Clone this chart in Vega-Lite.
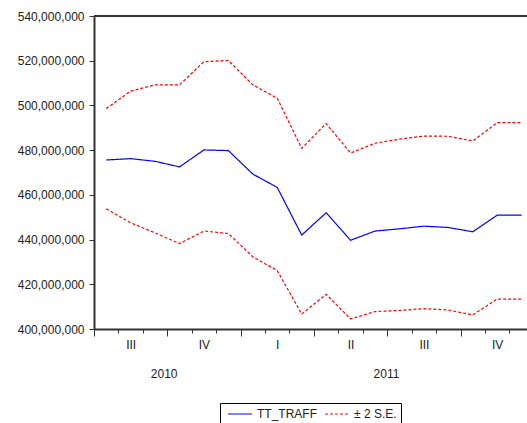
{
  "$schema": "https://vega.github.io/schema/vega-lite/v6.json",
  "autosize": "none",
  "width": 433,
  "height": 313,
  "padding": {"left": 94, "top": 16, "right": 0, "bottom": 94},
  "background": "white",
  "config": {
    "view": {"stroke": null},
    "font": "Liberation Sans",
    "axis": {"labelFont": "Liberation Sans", "labelFontSize": 12, "labelColor": "#222", "grid": false, "domainColor": "#333", "domainWidth": 2, "tickColor": "#333", "tickWidth": 1},
    "legend": {"labelFont": "Liberation Sans", "labelFontSize": 12, "labelColor": "#222"}
  },
  "data": {
    "values": [
      {"obs": 1, "month": "2010-07", "series": "TT_TRAFF", "band": "mid", "v": 475600000},
      {"obs": 2, "month": "2010-08", "series": "TT_TRAFF", "band": "mid", "v": 476200000},
      {"obs": 3, "month": "2010-09", "series": "TT_TRAFF", "band": "mid", "v": 475000000},
      {"obs": 4, "month": "2010-10", "series": "TT_TRAFF", "band": "mid", "v": 472500000},
      {"obs": 5, "month": "2010-11", "series": "TT_TRAFF", "band": "mid", "v": 480100000},
      {"obs": 6, "month": "2010-12", "series": "TT_TRAFF", "band": "mid", "v": 479800000},
      {"obs": 7, "month": "2011-01", "series": "TT_TRAFF", "band": "mid", "v": 469300000},
      {"obs": 8, "month": "2011-02", "series": "TT_TRAFF", "band": "mid", "v": 463300000},
      {"obs": 9, "month": "2011-03", "series": "TT_TRAFF", "band": "mid", "v": 442000000},
      {"obs": 10, "month": "2011-04", "series": "TT_TRAFF", "band": "mid", "v": 452000000},
      {"obs": 11, "month": "2011-05", "series": "TT_TRAFF", "band": "mid", "v": 439700000},
      {"obs": 12, "month": "2011-06", "series": "TT_TRAFF", "band": "mid", "v": 443800000},
      {"obs": 13, "month": "2011-07", "series": "TT_TRAFF", "band": "mid", "v": 444800000},
      {"obs": 14, "month": "2011-08", "series": "TT_TRAFF", "band": "mid", "v": 446000000},
      {"obs": 15, "month": "2011-09", "series": "TT_TRAFF", "band": "mid", "v": 445400000},
      {"obs": 16, "month": "2011-10", "series": "TT_TRAFF", "band": "mid", "v": 443500000},
      {"obs": 17, "month": "2011-11", "series": "TT_TRAFF", "band": "mid", "v": 450900000},
      {"obs": 18, "month": "2011-12", "series": "TT_TRAFF", "band": "mid", "v": 450900000},
      {"obs": 1, "month": "2010-07", "series": "± 2 S.E.", "band": "upper", "v": 498600000},
      {"obs": 2, "month": "2010-08", "series": "± 2 S.E.", "band": "upper", "v": 506400000},
      {"obs": 3, "month": "2010-09", "series": "± 2 S.E.", "band": "upper", "v": 509200000},
      {"obs": 4, "month": "2010-10", "series": "± 2 S.E.", "band": "upper", "v": 509200000},
      {"obs": 5, "month": "2010-11", "series": "± 2 S.E.", "band": "upper", "v": 519600000},
      {"obs": 6, "month": "2010-12", "series": "± 2 S.E.", "band": "upper", "v": 520100000},
      {"obs": 7, "month": "2011-01", "series": "± 2 S.E.", "band": "upper", "v": 509200000},
      {"obs": 8, "month": "2011-02", "series": "± 2 S.E.", "band": "upper", "v": 503200000},
      {"obs": 9, "month": "2011-03", "series": "± 2 S.E.", "band": "upper", "v": 480800000},
      {"obs": 10, "month": "2011-04", "series": "± 2 S.E.", "band": "upper", "v": 491900000},
      {"obs": 11, "month": "2011-05", "series": "± 2 S.E.", "band": "upper", "v": 478700000},
      {"obs": 12, "month": "2011-06", "series": "± 2 S.E.", "band": "upper", "v": 483100000},
      {"obs": 13, "month": "2011-07", "series": "± 2 S.E.", "band": "upper", "v": 484900000},
      {"obs": 14, "month": "2011-08", "series": "± 2 S.E.", "band": "upper", "v": 486300000},
      {"obs": 15, "month": "2011-09", "series": "± 2 S.E.", "band": "upper", "v": 486200000},
      {"obs": 16, "month": "2011-10", "series": "± 2 S.E.", "band": "upper", "v": 484100000},
      {"obs": 17, "month": "2011-11", "series": "± 2 S.E.", "band": "upper", "v": 492300000},
      {"obs": 18, "month": "2011-12", "series": "± 2 S.E.", "band": "upper", "v": 492300000},
      {"obs": 1, "month": "2010-07", "series": "± 2 S.E.", "band": "lower", "v": 453800000},
      {"obs": 2, "month": "2010-08", "series": "± 2 S.E.", "band": "lower", "v": 447500000},
      {"obs": 3, "month": "2010-09", "series": "± 2 S.E.", "band": "lower", "v": 443000000},
      {"obs": 4, "month": "2010-10", "series": "± 2 S.E.", "band": "lower", "v": 438200000},
      {"obs": 5, "month": "2010-11", "series": "± 2 S.E.", "band": "lower", "v": 443800000},
      {"obs": 6, "month": "2010-12", "series": "± 2 S.E.", "band": "lower", "v": 442700000},
      {"obs": 7, "month": "2011-01", "series": "± 2 S.E.", "band": "lower", "v": 432300000},
      {"obs": 8, "month": "2011-02", "series": "± 2 S.E.", "band": "lower", "v": 426100000},
      {"obs": 9, "month": "2011-03", "series": "± 2 S.E.", "band": "lower", "v": 406700000},
      {"obs": 10, "month": "2011-04", "series": "± 2 S.E.", "band": "lower", "v": 415500000},
      {"obs": 11, "month": "2011-05", "series": "± 2 S.E.", "band": "lower", "v": 404500000},
      {"obs": 12, "month": "2011-06", "series": "± 2 S.E.", "band": "lower", "v": 407800000},
      {"obs": 13, "month": "2011-07", "series": "± 2 S.E.", "band": "lower", "v": 408300000},
      {"obs": 14, "month": "2011-08", "series": "± 2 S.E.", "band": "lower", "v": 409100000},
      {"obs": 15, "month": "2011-09", "series": "± 2 S.E.", "band": "lower", "v": 408500000},
      {"obs": 16, "month": "2011-10", "series": "± 2 S.E.", "band": "lower", "v": 406300000},
      {"obs": 17, "month": "2011-11", "series": "± 2 S.E.", "band": "lower", "v": 413400000},
      {"obs": 18, "month": "2011-12", "series": "± 2 S.E.", "band": "lower", "v": 413400000}
    ]
  },
  "layer": [
    {
      "mark": {"type": "line", "strokeWidth": 1.2},
      "encoding": {
        "x": {
          "field": "obs", "type": "quantitative",
          "scale": {"domain": [0.5, 18.22], "nice": false, "zero": false},
          "axis": {
            "title": null,
            "values": [0.5, 1.5, 2, 2.5, 3.35, 3.5, 4.5, 5, 5.5, 6.5, 7.5, 8, 8.5, 9.5, 10.5, 11, 11.5, 12.45, 12.5, 13.5, 14, 14.5, 15.5, 16.5, 17, 17.5],
            "labelOverlap": false,
            "labelBound": false,
            "labelFlush": false,
            "labelBaseline": "top",
            "labelExpr": "datum.value === 2 ? 'III' : datum.value === 5 ? 'IV' : datum.value === 8 ? 'I' : datum.value === 11 ? 'II' : datum.value === 14 ? 'III' : datum.value === 17 ? 'IV' : datum.value === 3.35 ? '2010' : datum.value === 12.45 ? '2011' : ''",
            "tickOpacity": {"condition": {"test": "datum.value % 1 === 0.5", "value": 1}, "value": 0},
            "tickSize": {"condition": {"test": "(datum.value - 0.5) % 3 === 0", "value": 7}, "value": 4},
            "labelPadding": {"condition": {"test": "datum.value === 3.35 || datum.value === 12.45", "value": 35}, "value": 6}
          }
        },
        "y": {
          "field": "v", "type": "quantitative",
          "scale": {"domain": [400000000, 540000000], "nice": false, "zero": false},
          "axis": {"title": null, "values": [400000000, 420000000, 440000000, 460000000, 480000000, 500000000, 520000000, 540000000], "format": ",.0f", "tickSize": 5, "labelPadding": 5}
        },
        "detail": {"field": "band"},
        "color": {
          "field": "series", "type": "nominal",
          "scale": {"domain": ["TT_TRAFF", "± 2 S.E."], "range": ["#0000ff", "#ff0000"]},
          "legend": {
            "title": null, "orient": "none", "legendX": 126, "legendY": 387, "direction": "horizontal",
            "strokeColor": "#000", "padding": 4, "symbolType": "M-2,0H2", "symbolSize": 144, "symbolStrokeWidth": 1.2,
            "symbolOffset": 9, "labelOffset": 10, "columnPadding": 4, "fillColor": "white"
          }
        },
        "strokeDash": {
          "field": "series", "type": "nominal",
          "scale": {"domain": ["TT_TRAFF", "± 2 S.E."], "range": [[1, 0], [3, 2]]},
          "legend": {
            "title": null, "orient": "none", "legendX": 126, "legendY": 387, "direction": "horizontal",
            "strokeColor": "#000", "padding": 4, "symbolType": "M-2,0H2", "symbolSize": 144,
            "symbolOffset": 9, "labelOffset": 10, "columnPadding": 4
          }
        }
      }
    },
    {
      "mark": {"type": "rule", "color": "#333", "strokeWidth": 2},
      "encoding": {"y": {"datum": 540000000}}
    }
  ]
}
